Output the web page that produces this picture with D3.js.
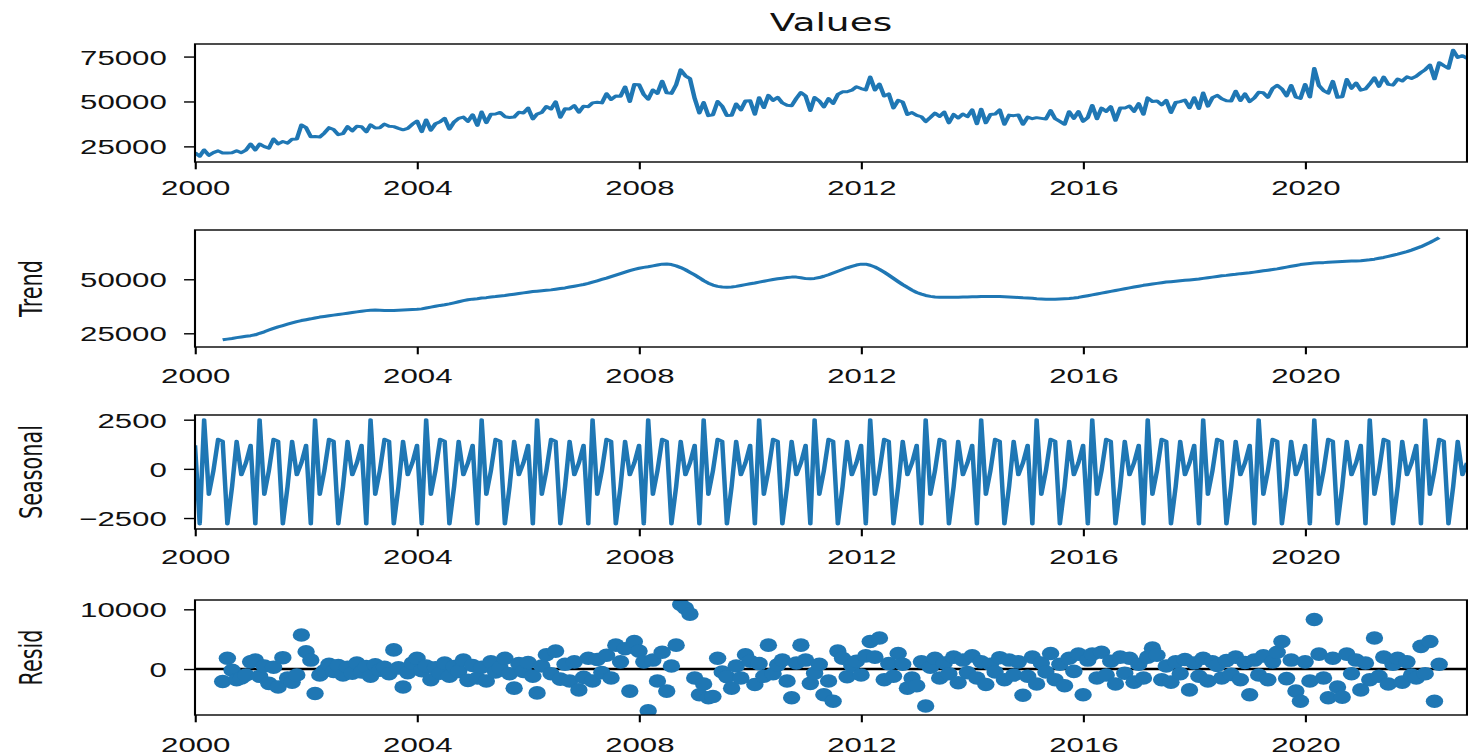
<!DOCTYPE html>
<html><head><meta charset="utf-8">
<script src="https://cdn.jsdelivr.net/npm/d3@7"></script>
<style>html,body{margin:0;padding:0;background:#fff;}svg{display:block;}</style>
</head><body>
<svg id="c" width="1468" height="756"></svg>
<script>
// ---------------- data ----------------
const startYear = 2000;
const observed = [
21500,19500,23000,20000,21500,22500,21300,21300,21500,22600,21500,22900,
26300,23000,26300,24900,24000,29100,26400,27700,26800,29000,29100,36900,
35400,30400,30500,30200,32400,35400,34400,31500,32100,36000,33600,36200,
35900,33100,37000,35200,35400,37400,36200,36000,35000,34200,35000,37300,
39100,33200,39700,34000,37600,38700,40600,34600,38600,40600,41300,38900,
42600,36700,44100,38200,42900,43000,43900,41500,41100,41300,44000,43600,
46300,40300,43000,43900,47200,45800,49800,41200,45900,45800,47700,44000,
47400,47100,49200,49600,49200,54300,51100,53100,52900,58100,50000,59500,
59300,53900,51300,56400,54500,61300,54800,54500,59300,67600,64300,62700,
51700,43600,49400,42100,42600,50000,47300,42200,42300,48600,45300,50200,
50400,42900,52100,46600,53400,50600,52300,49200,47900,47600,51700,55000,
53000,45000,52200,50300,47000,51600,48900,53900,55400,55400,56300,58200,
57200,56400,63600,56400,59700,53000,54200,46400,50600,49700,42700,43800,
42300,41500,38800,41100,43500,41700,44100,38100,42800,40800,43000,41500,
45300,37600,45700,38100,42700,43000,45300,37300,42400,42100,42500,37300,
41300,40400,41000,40600,40200,44900,40400,38900,37300,44300,40600,44400,
38900,41100,47800,40400,46300,44500,47100,39500,46300,46300,47500,44500,
48800,42900,52000,50000,50300,48100,50600,43900,49400,49900,50800,46500,
52100,46100,54700,47400,52100,53400,51500,50400,50300,55700,50500,54200,
49900,52000,55100,54800,52300,57200,59000,57000,53100,58900,52400,51700,
59500,52500,68300,58800,56100,54600,61200,52300,52600,62200,57300,60300,
56300,57000,59700,63200,58400,63600,59500,59100,62500,61400,63700,62800,
64000,66100,67700,70300,62600,71600,70000,68500,78500,74500,75500,74000
];
// trend and resid start in July 2000 (month index 6)
const componentStart = 6;
const trend = [
22000,22300,22600,23000,23300,23600,
23900,24300,25000,25700,26500,27300,28000,28600,29200,29800,30400,30900,
31300,31700,32100,32500,32800,33100,33400,33700,34000,34300,34600,34900,
35200,35500,35700,35800,35700,35600,35600,35600,35700,35800,35900,36000,
36100,36300,36700,37100,37500,37900,38200,38600,39100,39600,40100,40500,
40800,41000,41300,41500,41800,42000,42300,42500,42800,43100,43400,43700,
44000,44300,44500,44700,44900,45100,45400,45700,46000,46400,46800,47200,
47600,48100,48700,49300,49900,50500,51200,51900,52600,53300,54000,54600,
55100,55500,55800,56200,56600,57000,57100,56800,56200,55400,54400,53200,
52000,50700,49400,48200,47300,46700,46400,46300,46400,46700,47100,47500,
47900,48300,48700,49100,49500,49900,50200,50500,50800,51000,51000,50700,
50300,50200,50400,50800,51400,52100,52900,53700,54500,55300,56000,56600,
57000,57000,56500,55700,54600,53300,51900,50400,48900,47500,46200,45000,
43900,43100,42500,42100,41800,41700,41700,41700,41700,41700,41800,41800,
41900,41900,42000,42000,42000,42000,42000,41900,41800,41700,41600,41400,
41300,41200,41000,40900,40800,40800,40800,40900,41000,41100,41300,41600,
42000,42400,42800,43200,43600,44000,44400,44800,45200,45600,46000,46400,
46800,47200,47500,47800,48100,48400,48700,48900,49100,49300,49500,49700,
49900,50100,50400,50700,51000,51300,51600,51800,52100,52300,52600,52800,
53000,53300,53600,53900,54200,54500,54800,55200,55600,56000,56400,56800,
57100,57300,57500,57600,57700,57900,58000,58100,58200,58300,58400,58500,
58600,58800,59000,59300,59700,60100,60600,61100,61600,62200,62800,63500,
64300,65100,66000,67000,68100,69300
];
// seasonal component: one value per calendar month (Jan..Dec), repeated every year
const seasonalPattern = [1200,-2800,2500,-1300,-100,1500,1400,-2800,-900,1400,-300,300];
const resid = [
-2100,1800,-200,-1800,-1500,-1000,
1200,1500,-1200,500,-2400,300,-3000,1900,-1500,-2200,-1000,5700,
2900,1500,-4100,-1000,-300,800,-400,600,-1000,300,-700,1000,
-500,400,-1200,700,-200,300,-800,3200,200,-3000,-600,1000,
1800,-300,500,-1800,200,-700,1000,-1200,400,-400,1500,-1900,
600,-1500,300,-2000,1200,-500,200,1800,-800,-3200,900,-400,
1100,-1200,-4000,500,2400,-800,3000,-1700,800,-2000,1200,-3500,
-1400,1800,-2000,1600,-600,2300,-1500,4000,1200,3400,-3700,4600,
3000,1200,-7000,1500,-2000,2800,-3700,500,4000,10800,10200,9200,
-1500,-4300,-2500,-4800,-4600,1800,-500,-1300,-3200,500,-1500,2400,
1300,-2600,900,-1200,4000,-800,700,1500,-2000,-4800,1000,4000,
1500,-2400,-700,800,-4300,-2000,-5400,3000,1800,-1300,600,1300,
-1000,2200,4600,2000,5200,-1800,900,-1200,2600,800,-3200,-1500,
-2800,1200,-6200,300,1800,-1500,1000,-800,2000,-2300,1500,-600,
2200,-1500,1200,-2600,800,-500,1900,-1800,1500,-1000,1200,-4400,
-1200,2000,-2500,1000,-500,2600,-1800,800,-2800,1800,-400,2500,
-4300,1500,2500,-1500,2800,-1000,1300,-2500,2000,-700,1800,-2200,
800,-1500,2000,3500,2300,-1800,500,-2200,1200,-800,1600,-3500,
1000,-1200,1800,-2000,1200,600,-1500,1400,-900,2000,-1800,1100,
-4300,1500,-1000,2200,-1800,1200,2800,4600,-1600,1500,-3700,-5400,
1200,-2000,8300,2500,-1500,-4800,1800,-3000,-4700,2500,-800,1500,
-3500,1000,-1800,5200,-1200,2000,-2500,800,1800,-2200,1200,-1000,
-1500,3800,-800,4600,-5400,800
];
const yearTicks = [2000,2004,2008,2012,2016,2020];
const titleText = "Values";
const panelLabels = [null, "Trend", "Seasonal", "Resid"];
const yTickValues = [[25000,50000,75000],[25000,50000],[-2500,0,2500],[0,10000]];

// ---------------- layout ----------------
const SX = 1.5;                 // horizontal stretch of the whole figure
const L = 195 / SX, R = 1467 / SX;
const panels = [
  {top:44,  bottom:162, domain:[16300,82000],  xLabelBase:195.5},
  {top:230, bottom:347, domain:[18660,72800],  xLabelBase:383.5},
  {top:415, bottom:529, domain:[-3058,2738],   xLabelBase:564.5},
  {top:600, bottom:715, domain:[-7700,11560],  xLabelBase:752.5}
];
const blue = "#1f77b4";
const fontSize = 20.8;
const tickLen = 7.3;
const fmt = d => d < 0 ? "\u2212" + Math.abs(d) : String(d);

const svg = d3.select("#c");
svg.append("rect").attr("width",1468).attr("height",756).attr("fill","#fff");
const root = svg.append("g").attr("transform", `scale(${SX},1)`)
  .style("font-family", "'DejaVu Sans', sans-serif");

const months = observed.map((_, i) => d3.timeMonth.offset(new Date(startYear, 0, 1), i));
const x = d3.scaleTime().domain([months[0], months[months.length - 1]]).range([L, R]);

const series = [
  observed.map((v, i) => ({d: months[i], v})),
  trend.map((v, i) => ({d: months[i + componentStart], v})),
  months.map((d, i) => ({d, v: seasonalPattern[d.getMonth()]})),
  resid.map((v, i) => ({d: months[i + componentStart], v}))
];

const defs = root.append("defs");

panels.forEach((p, k) => {
  const y = d3.scaleLinear().domain(p.domain).range([p.bottom, p.top]);
  const g = root.append("g");
  const clipId = "clip" + k;
  defs.append("clipPath").attr("id", clipId).append("rect")
    .attr("x", L).attr("y", p.top).attr("width", R - L).attr("height", p.bottom - p.top);
  const plot = g.append("g").attr("clip-path", `url(#${clipId})`);

  if (k < 3) {
    plot.append("path").datum(series[k])
      .attr("fill", "none").attr("stroke", blue).attr("stroke-width", 3.0)
      .attr("stroke-linejoin", "round")
      .attr("d", d3.line().x(d => x(d.d)).y(d => y(d.v)));
  } else {
    plot.append("line").attr("x1", L).attr("x2", R).attr("y1", y(0)).attr("y2", y(0))
      .attr("stroke", "#000").attr("stroke-width", 2.4);
    plot.selectAll("ellipse").data(series[k]).join("ellipse")
      .attr("cx", d => x(d.d)).attr("cy", d => y(d.v))
      .attr("rx", 5.8).attr("ry", 6.8).attr("fill", blue);
  }

  // spines
  g.append("rect").attr("x", L).attr("y", p.top).attr("width", R - L).attr("height", p.bottom - p.top)
    .attr("fill", "none").attr("stroke", "#000").attr("stroke-width", 1.4);

  // y axis
  const ya = g.append("g").attr("transform", `translate(${L},0)`)
    .call(d3.axisLeft(y).tickValues(yTickValues[k]).tickSize(tickLen).tickPadding(11.5).tickFormat(fmt));
  ya.select(".domain").remove();
  ya.selectAll("line").attr("stroke", "#000").attr("stroke-width", 1.4);
  ya.selectAll("text").attr("fill", "#111").style("font-size", fontSize + "px")
    .attr("dy", null).attr("y", 7.5);

  // x axis
  const xa = g.append("g").attr("transform", `translate(0,${p.bottom})`)
    .call(d3.axisBottom(x).tickValues(yearTicks.map(yr => new Date(yr, 0, 1)))
      .tickSize(tickLen).tickFormat(d3.timeFormat("%Y")));
  xa.select(".domain").remove();
  xa.selectAll("line").attr("stroke", "#000").attr("stroke-width", 1.4);
  xa.selectAll("text").attr("fill", "#111").style("font-size", fontSize + "px")
    .attr("dy", null).attr("y", p.xLabelBase - p.bottom);

  if (panelLabels[k]) {
    g.append("text").attr("transform", `translate(${42 / SX},${(p.top + p.bottom) / 2}) rotate(-90)`)
      .attr("text-anchor", "middle").attr("fill", "#111").style("font-size", fontSize + "px")
      .text(panelLabels[k]);
  }
});

root.append("text").attr("x", (L + R) / 2).attr("y", 31.5).attr("text-anchor", "middle")
  .attr("fill", "#111").style("font-size", "25px").text(titleText);
</script>
</body></html>
